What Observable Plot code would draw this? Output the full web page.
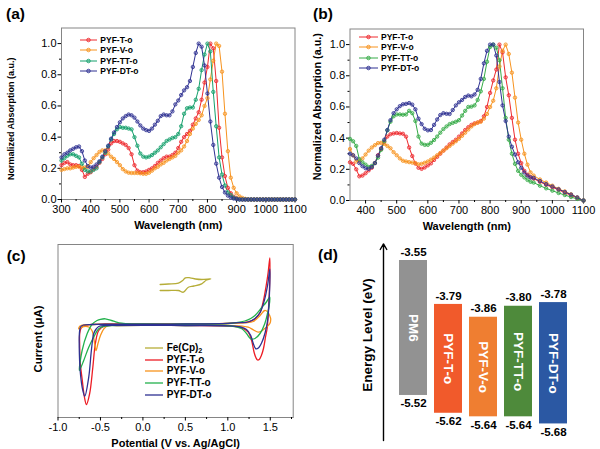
<!DOCTYPE html>
<html>
<head>
<meta charset="utf-8">
<script src="https://cdn.jsdelivr.net/npm/d3@7"></script>
<script src="https://cdn.jsdelivr.net/npm/@observablehq/plot@0.6"></script>
<style>
  html, body { margin: 0; padding: 0; background: #fff; overflow: hidden; }
  #fig { position: relative; width: 600px; height: 449px; overflow: hidden; background: #fff;
         font-family: "Liberation Sans", Arial, Helvetica, sans-serif; color: #000; }
  .plabel { position: absolute; font-weight: bold; font-size: 15.5px; line-height: 15.5px; white-space: nowrap; }
  .lrow { position: absolute; display: flex; align-items: center; height: 12px; white-space: nowrap; font-weight: bold; }
  .lrow svg { display: block; flex: none; }
  .lrow span { line-height: 12px; }
  .lrow sub { font-size: 0.72em; vertical-align: -0.3em; line-height: 0; }
  .rot { position: absolute; font-weight: bold; white-space: nowrap; transform: translate(-50%, -50%) rotate(-90deg); }
</style>
</head>
<body>
<div id="fig"></div>
<script>
// ---------------- DATA ----------------
const seriesNames = ["PYF-T-o", "PYF-V-o", "PYF-TT-o", "PYF-DT-o"];

// (a) absorption, wavelength grid 300..1100 nm step 10
const wlA = d3.range(300, 1101, 10);
const absA_T = [0.22,0.235,0.24,0.225,0.22,0.22,0.215,0.19,0.145,0.165,
  0.175,0.195,0.21,0.235,0.26,0.29,0.32,0.36,0.375,0.375,
  0.37,0.36,0.35,0.33,0.29,0.22,0.185,0.175,0.175,0.18,
  0.19,0.2,0.215,0.235,0.25,0.265,0.275,0.275,0.285,0.3,
  0.33,0.37,0.4,0.42,0.44,0.48,0.52,0.56,0.64,0.75,
  0.85,1.0,0.97,0.76,0.46,0.27,0.15,0.075,0.04,0.018,
  0.008,0.003,0,0,0,0,0,0,0,0,
  0,0,0,0,0,0,0,0,0,0,
  0];
const absA_V = [0.19,0.195,0.2,0.2,0.205,0.21,0.21,0.205,0.205,0.21,
  0.24,0.265,0.285,0.305,0.315,0.315,0.295,0.275,0.26,0.24,
  0.22,0.195,0.18,0.172,0.17,0.17,0.17,0.168,0.165,0.165,
  0.172,0.185,0.2,0.21,0.225,0.235,0.25,0.26,0.27,0.28,
  0.3,0.315,0.34,0.375,0.42,0.455,0.485,0.51,0.54,0.6,
  0.65,0.77,0.89,1.0,0.985,0.82,0.55,0.31,0.14,0.075,
  0.04,0.02,0.01,0.004,0,0,0,0,0,0,
  0,0,0,0,0,0,0,0,0,0,
  0];
const absA_TT = [0.25,0.265,0.28,0.29,0.29,0.28,0.27,0.23,0.19,0.18,
  0.18,0.19,0.2,0.24,0.27,0.3,0.34,0.385,0.42,0.45,
  0.465,0.46,0.46,0.455,0.45,0.4,0.345,0.295,0.275,0.27,
  0.275,0.285,0.3,0.315,0.335,0.355,0.375,0.385,0.395,0.4,
  0.42,0.47,0.55,0.585,0.59,0.59,0.64,0.71,0.83,0.93,
  1.0,0.95,0.69,0.47,0.27,0.16,0.09,0.045,0.028,0.012,
  0.005,0,0,0,0,0,0,0,0,0,
  0,0,0,0,0,0,0,0,0,0,
  0];
const absA_DT = [0.27,0.29,0.3,0.315,0.325,0.335,0.34,0.31,0.25,0.215,
  0.205,0.21,0.225,0.245,0.275,0.31,0.345,0.39,0.43,0.465,
  0.495,0.52,0.535,0.545,0.54,0.525,0.5,0.475,0.455,0.445,
  0.44,0.455,0.48,0.505,0.535,0.545,0.54,0.54,0.565,0.61,
  0.635,0.67,0.7,0.72,0.76,0.85,0.94,1.0,0.98,0.86,
  0.68,0.5,0.35,0.23,0.14,0.08,0.045,0.025,0.013,0.006,
  0.003,0,0,0,0,0,0,0,0,0,
  0,0,0,0,0,0,0,0,0,0,
  0];

// (b) absorption, 350..930 step 10 then 940..1100 step 20
const wlB = [...d3.range(350, 931, 10), ...d3.range(940, 1101, 20)];
const absB_T = [0.245,0.235,0.2,0.155,0.16,0.175,0.193,0.21,0.24,0.29,
  0.33,0.375,0.41,0.425,0.43,0.433,0.43,0.428,0.41,0.34,
  0.285,0.237,0.21,0.203,0.212,0.225,0.238,0.26,0.28,0.3,
  0.32,0.34,0.36,0.375,0.39,0.41,0.43,0.452,0.47,0.485,
  0.495,0.5,0.51,0.54,0.6,0.69,0.77,0.84,1.0,0.95,
  0.79,0.675,0.53,0.39,0.3,0.24,0.19,0.165,0.15,
  0.14,0.12,0.1,0.085,0.068,0.05,0.033,0.016,0];
const absB_V = [0.33,0.29,0.25,0.255,0.27,0.295,0.32,0.34,0.355,0.368,
  0.37,0.363,0.35,0.335,0.31,0.29,0.27,0.255,0.25,0.246,
  0.243,0.24,0.232,0.235,0.242,0.25,0.262,0.275,0.29,0.305,
  0.32,0.335,0.35,0.365,0.38,0.396,0.415,0.435,0.455,0.475,
  0.49,0.5,0.505,0.525,0.555,0.6,0.64,0.72,0.86,0.96,
  1.0,0.94,0.82,0.66,0.5,0.39,0.3,0.23,0.18,
  0.16,0.135,0.115,0.095,0.075,0.058,0.04,0.02,0];
const absB_TT = [0.395,0.38,0.35,0.265,0.245,0.23,0.215,0.222,0.24,0.275,
  0.325,0.38,0.45,0.505,0.54,0.552,0.552,0.55,0.552,0.575,
  0.56,0.51,0.41,0.365,0.357,0.357,0.37,0.388,0.41,0.435,
  0.458,0.475,0.49,0.498,0.505,0.515,0.545,0.575,0.6,0.602,
  0.61,0.645,0.7,0.78,0.89,0.985,1.0,0.98,0.9,0.72,
  0.53,0.39,0.3,0.235,0.19,0.165,0.148,0.132,0.12,
  0.115,0.095,0.078,0.063,0.048,0.035,0.022,0.01,0];
const absB_DT = [0.3,0.29,0.27,0.24,0.22,0.207,0.203,0.215,0.24,0.288,
  0.335,0.39,0.452,0.515,0.56,0.585,0.605,0.617,0.62,0.625,
  0.615,0.585,0.525,0.49,0.46,0.45,0.452,0.485,0.52,0.548,
  0.56,0.556,0.555,0.58,0.61,0.63,0.645,0.664,0.673,0.668,
  0.68,0.71,0.78,0.88,0.96,1.0,1.0,0.93,0.76,0.61,
  0.51,0.41,0.345,0.295,0.245,0.21,0.18,0.16,0.148,
  0.145,0.125,0.105,0.09,0.072,0.055,0.038,0.02,0];

const colorsA = ["#ee2a2e", "#f7931e", "#15a06c", "#2e3192"];
const colorsB = ["#ee2a2e", "#f7931e", "#36ab48", "#2e3192"];
const xMajorA = [300, 400, 500, 600, 700, 800, 900, 1000, 1100];
const xMinorA = [350, 450, 550, 650, 750, 850, 950, 1050];
const xMajorB = [400, 500, 600, 700, 800, 900, 1000, 1100];
const xMinorB = [450, 550, 650, 750, 850, 950, 1050];
const yMajorAbs = [0, 0.2, 0.4, 0.6, 0.8, 1.0];
const yMinorAbs = [0.1, 0.3, 0.5, 0.7, 0.9];
const xTitleAbs = "Wavelength (nm)";
const yTitleAbs = "Normalized Absorption (a.u.)";

// (c) cyclic voltammetry loops [potential V, current (arb.)]
const cvNames = ["Fe(Cp)2", "PYF-T-o", "PYF-V-o", "PYF-TT-o", "PYF-DT-o"];
const cvColors = ["#b6ad38", "#ed1c24", "#f7941d", "#22b14c", "#2e3192"];
const cvFc = [[0.203,40],[0.3,40.5],[0.418,41.3],[0.47,44],[0.5,46.7],[0.555,46.7],[0.62,45.5],[0.692,45],[0.8,45.7],
  [0.75,44.5],[0.692,40.7],[0.6,38.5],[0.535,37.3],[0.477,32.3],[0.418,34],[0.3,34],[0.203,34]];
const cvT = [[-0.3,0.5],[0,0.5],[0.5,0.7],[1.0,1.2],[1.15,1.8],[1.24,2.5],[1.32,5.5],[1.38,12],[1.42,24],[1.45,38],[1.475,52],[1.495,66.5],
  [1.49,34],[1.475,10],[1.465,-3],[1.445,-12],[1.42,-24],[1.395,-31],[1.37,-35],[1.35,-35.5],[1.33,-33],[1.31,-28],[1.28,-16],[1.24,-7.7],
  [1.16,-3.3],[1.0,-1.5],[0.5,-1],[0,-0.8],[-0.3,-1],[-0.45,-1.5],[-0.52,-6],[-0.56,-19],[-0.59,-43],[-0.627,-69],[-0.665,-80],
  [-0.69,-72],[-0.715,-55],[-0.736,-40],[-0.745,-20],[-0.744,-9],[-0.73,-4],[-0.7,-1.5],[-0.6,0],[-0.45,0.5],[-0.3,0.5]];
const cvV = [[0,0.3],[0.5,0.5],[1.0,1.0],[1.2,1.8],[1.3,3],[1.38,9],[1.435,14],[1.47,12.5],[1.495,8.5],[1.505,5.7],
  [1.495,1],[1.47,-1.5],[1.435,-4],[1.4,-6.5],[1.357,-7.7],[1.3,-5.3],[1.24,-2.7],[1.13,-1.3],[1.0,-1],[0.5,-0.8],[0,-0.8],
  [-0.3,-0.8],[-0.41,-1.2],[-0.46,-4.3],[-0.5,-11],[-0.53,-19.3],[-0.552,-26],[-0.568,-19.3],[-0.6,-6],[-0.638,-2.5],
  [-0.7,-2.2],[-0.756,-4.3],[-0.74,-1.5],[-0.68,-0.3],[-0.5,0.2],[-0.3,0.3],[0,0.3]];
const cvTT = [[0,0.5],[0.5,0.5],[1.0,1.0],[1.1,1.8],[1.2,3.5],[1.27,6],[1.32,9],[1.4,17],[1.45,22],[1.494,27.3],
  [1.485,18],[1.47,12],[1.435,0.7],[1.38,-9],[1.32,-14],[1.27,-14.3],[1.22,-9],[1.16,-4],[1.04,-1.5],[0.5,-1],[0,-0.8],
  [-0.3,-1],[-0.45,-1.5],[-0.52,-4.3],[-0.58,-12.7],[-0.638,-22.7],[-0.697,-36],[-0.748,-46],[-0.716,-26],[-0.657,-9.3],
  [-0.6,0],[-0.54,4],[-0.5,5.2],[-0.443,5.7],[-0.345,3.3],[-0.25,1.3],[-0.1,0.6],[0,0.5]];
const cvDT = [[-0.3,0.3],[0,0.3],[0.5,0.6],[1.0,1.2],[1.15,1.8],[1.24,2.5],[1.32,6],[1.38,12],[1.43,24],[1.47,40],[1.495,55.7],
  [1.49,30],[1.47,5],[1.44,-8],[1.4,-18],[1.36,-23.5],[1.33,-24.3],[1.3,-19],[1.27,-11],[1.22,-5],[1.15,-2.5],[1.0,-1.3],
  [0.5,-1],[0,-0.8],[-0.3,-0.8],[-0.45,-1],[-0.52,-2],[-0.555,-5],[-0.58,-9.3],[-0.607,-26],[-0.638,-52.7],[-0.685,-71.7],
  [-0.71,-65],[-0.735,-50],[-0.748,-30],[-0.748,-9],[-0.735,-2.5],[-0.7,-0.5],[-0.6,0],[-0.45,0.3],[-0.3,0.3]];
const cvMajor = [-1.0, -0.5, 0.0, 0.5, 1.0, 1.5];
const cvMinor = [-0.75, -0.25, 0.25, 0.75, 1.25, 1.75];

// (d) energy levels
const levelNames = ["PM6", "PYF-T-o", "PYF-V-o", "PYF-TT-o", "PYF-DT-o"];
const lumo = [-3.55, -3.79, -3.86, -3.80, -3.78];
const homo = [-5.52, -5.62, -5.64, -5.64, -5.68];
const levelColors = ["#929292", "#f15a2b", "#ef7e31", "#4e8a3b", "#2b58a3"];
const axisExtent = [-5.773, -3.459];
// broken (piecewise) energy scale of the schematic
const yDomD = [-5.9, -5.4, -3.95, -3.3];
const yRangeD = [227.6, 138.6, 98.2, -20.75];

// ---------------- DRAWING ----------------
const FONT = "'Liberation Sans', Arial, Helvetica, sans-serif";
const fig = document.getElementById("fig");
const styleBase = {fontFamily: FONT, fontSize: "11px", background: "transparent", color: "#000", overflow: "visible"};
function put(el, left, top) {
  el.style.position = "absolute"; el.style.left = left + "px"; el.style.top = top + "px";
  fig.appendChild(el); return el;
}

function absPanel(wl, vals, colors, cfg) {
  const rows = [];
  seriesNames.forEach((s, k) => vals[k].forEach((a, i) => rows.push({s, wl: wl[i], a})));
  return Plot.plot({
    width: cfg.width, height: 235,
    marginLeft: cfg.ml, marginRight: cfg.mr, marginTop: cfg.mt, marginBottom: cfg.mb,
    style: styleBase,
    x: {domain: cfg.xDomain, label: null},
    y: {domain: [0, 1.1], label: null},
    color: {domain: seriesNames, range: colors},
    marks: [
      Plot.frame({stroke: "#858585"}),
      Plot.axisX({ticks: cfg.xMajor, tickSize: 3.5, tickPadding: 2, tickFormat: d => String(d), label: null}),
      Plot.axisX({ticks: cfg.xMinor, tickSize: 2, tickFormat: () => "", label: null}),
      Plot.axisY({ticks: yMajorAbs, tickSize: 3.5, tickPadding: 1.5, tickFormat: d => d.toFixed(1), label: null}),
      Plot.axisY({ticks: yMinorAbs, tickSize: 2, tickFormat: () => "", label: null}),
      Plot.line(rows, {x: "wl", y: "a", z: "s", stroke: "s", strokeWidth: 1}),
      Plot.dot(rows, {x: "wl", y: "a", stroke: "s", fill: "s", fillOpacity: 0.35, r: 1.7, strokeWidth: 0.8}),
      Plot.text([xTitleAbs], {text: d => d, frameAnchor: "bottom", textAnchor: "middle", lineAnchor: "middle",
        dy: 25.5, fontWeight: "bold", fontSize: 11}),
      Plot.text([yTitleAbs], {text: d => d, frameAnchor: "left", textAnchor: "middle", lineAnchor: "middle",
        rotate: -90, dx: cfg.ydx, dy: cfg.ydy, fontWeight: "bold", fontSize: cfg.yfs})
    ]
  });
}

// (a)
put(absPanel(wlA, [absA_T, absA_V, absA_TT, absA_DT], colorsA,
  {width: 310, ml: 61, mr: 15.5, mt: 27.5, mb: 36, xDomain: [300, 1100], xMajor: xMajorA, xMinor: xMinorA,
   ydx: -50, ydy: 5, yfs: 9}), 0, 0);
// (b)
put(absPanel(wlB, [absB_T, absB_V, absB_TT, absB_DT], colorsB,
  {width: 300, ml: 49.5, mr: 17, mt: 28.5, mb: 35, xDomain: [350, 1100], xMajor: xMajorB, xMinor: xMinorB,
   ydx: -32.5, ydy: -8, yfs: 10.8}), 300, 0);

// (c)
const cvSets = [cvFc, cvT, cvV, cvTT, cvDT];
const rowsC = [];
cvNames.forEach((s, k) => cvSets[k].forEach(([v, i]) => rowsC.push({s, v, i})));
put(Plot.plot({
  width: 300, height: 214, marginLeft: 57.5, marginRight: 7.3, marginTop: 9, marginBottom: 32,
  style: styleBase,
  x: {domain: [-1, 1.77], label: null},
  y: {domain: [-93, 80], axis: null, label: null},
  color: {domain: cvNames, range: cvColors},
  marks: [
    Plot.frame({stroke: "#858585"}),
    Plot.axisX({ticks: cvMajor, tickSize: 3.5, tickPadding: 2, tickFormat: d => d.toFixed(1), label: null}),
    Plot.axisX({ticks: cvMinor, tickSize: 2, tickFormat: () => "", label: null}),
    Plot.line(rowsC, {x: "v", y: "i", z: "s", stroke: "s", curve: "catmull-rom", strokeWidth: 1.3}),
    Plot.text(["Potential (V vs. Ag/AgCl)"], {text: d => d, frameAnchor: "bottom", textAnchor: "middle", lineAnchor: "middle",
      dy: 26.3, fontWeight: "bold", fontSize: 11}),
    Plot.text(["Current (μA)"], {text: d => d, frameAnchor: "left", textAnchor: "middle", lineAnchor: "middle",
      rotate: -90, dx: -19.5, dy: 8, fontWeight: "bold", fontSize: 11.4})
  ]
}), 0, 235);

// (d)
const levels = levelNames.map((name, k) => ({name, lumo: lumo[k], homo: homo[k]}));
const yD = d3.scaleLinear().domain(yDomD).range(yRangeD);
const midY = d => yD.invert((yD(d.lumo) + yD(d.homo)) / 2);
put(Plot.plot({
  width: 300, height: 214, marginLeft: 0, marginRight: 0, marginTop: 0, marginBottom: 0,
  style: styleBase,
  x: {type: "band", domain: ["axis", ...levelNames], range: [60.5, 270.5], paddingInner: 0.2, paddingOuter: 0.1, axis: null},
  y: {type: "linear", domain: yDomD, range: yRangeD, axis: null},
  color: {domain: levelNames, range: levelColors},
  marks: [
    Plot.barY(levels, {x: "name", y1: "lumo", y2: "homo", fill: "name"}),
    Plot.text(levels, {x: "name", y: midY, text: "name", rotate: 90, fill: "white", fontWeight: "bold", fontSize: 13.5}),
    Plot.text(levels, {x: "name", y: "lumo", text: d => d.lumo.toFixed(2), dy: -8.5, fontWeight: "bold", fontSize: 11.5}),
    Plot.text(levels, {x: "name", y: "homo", text: d => d.homo.toFixed(2), dy: 8, fontWeight: "bold", fontSize: 11.5}),
    Plot.arrow([axisExtent], {x1: () => "axis", x2: () => "axis", y1: d => d[0], y2: d => d[1], dx: 5,
      stroke: "black", strokeWidth: 1.4, headLength: 7})
  ]
}), 300, 235);

// ---------------- HTML text: legends, panel labels ----------------
function legend(names, colors, o) {
  const ns = "http://www.w3.org/2000/svg";
  names.forEach((n, i) => {
    const row = document.createElement("div");
    row.className = "lrow";
    row.style.left = o.x + "px";
    row.style.top = (o.y0 + i * o.dy - 6) + "px";
    row.style.fontSize = o.fs + "px";
    const svg = document.createElementNS(ns, "svg");
    svg.setAttribute("width", o.w); svg.setAttribute("height", 12);
    const ln = document.createElementNS(ns, "line");
    ln.setAttribute("x1", 0); ln.setAttribute("x2", o.w); ln.setAttribute("y1", 6); ln.setAttribute("y2", 6);
    ln.setAttribute("stroke", colors[i]); ln.setAttribute("stroke-width", o.sw);
    svg.appendChild(ln);
    if (o.marker) {
      const c = document.createElementNS(ns, "circle");
      c.setAttribute("cx", o.w / 2); c.setAttribute("cy", 6); c.setAttribute("r", 1.8);
      c.setAttribute("fill", colors[i]); c.setAttribute("fill-opacity", 0.35);
      c.setAttribute("stroke", colors[i]); c.setAttribute("stroke-width", 0.8);
      svg.appendChild(c);
    }
    row.appendChild(svg);
    const sp = document.createElement("span");
    sp.style.marginLeft = o.gap + "px";
    sp.innerHTML = n.replace(/\)2$/, ")<sub>2</sub>");
    row.appendChild(sp);
    fig.appendChild(row);
  });
}
legend(seriesNames, colorsA, {x: 80, y0: 40, dy: 10.4, w: 17, gap: 3.3, fs: 8.5, sw: 1, marker: true});
legend(seriesNames, colorsB, {x: 359, y0: 36.7, dy: 10.5, w: 19, gap: 3, fs: 8.5, sw: 1, marker: true});
legend(cvNames, cvColors, {x: 145, y0: 347.7, dy: 11.8, w: 18.3, gap: 3.4, fs: 10, sw: 1.3, marker: false});

const panelLabels = [["(a)", 6, 6.3], ["(b)", 313, 6.3], ["(c)", 6.7, 247.9], ["(d)", 318, 247]];
panelLabels.forEach(([t, x, y]) => {
  const d = document.createElement("div");
  d.className = "plabel"; d.textContent = t;
  put(d, x, y);
});
const eTitle = document.createElement("div");
eTitle.className = "rot"; eTitle.style.fontSize = "13.5px"; eTitle.textContent = "Energy Level (eV)";
put(eTitle, 367, 335);
</script>
</body>
</html>
